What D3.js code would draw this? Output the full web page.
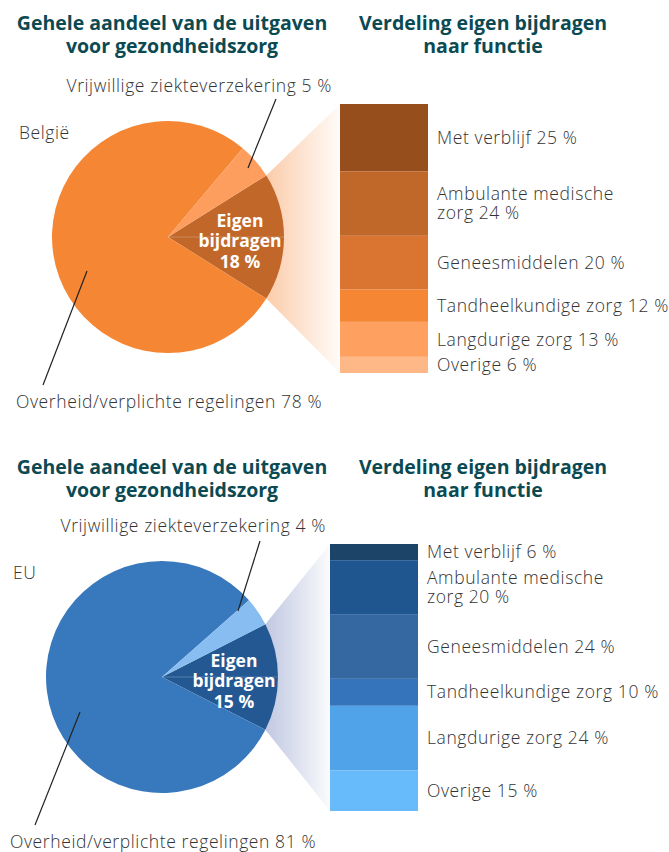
<!DOCTYPE html>
<html>
<head>
<meta charset="utf-8">
<script src="https://cdn.jsdelivr.net/npm/d3@7"></script>
<style>
  body { margin: 0; background: #fff; }
  .title { font-family: "Open Sans", sans-serif; font-weight: 700; font-size: 19.5px; fill: #0b4a52; }
  .lbl { font-family: "Open Sans", sans-serif; font-weight: 300; font-size: 17.5px; letter-spacing: 0.6px; fill: #333; }
  .inner { font-family: "Open Sans", sans-serif; font-weight: 700; font-size: 17.5px; fill: #fff; }
</style>
</head>
<body>
<svg id="chart"></svg>
<script>

/// DATA ////////////////////////////////////////////////////////////////////////////////

var TITLE_LEFT = ["Gehele aandeel van de uitgaven", "voor gezondheidszorg"];
var TITLE_RIGHT = ["Verdeling eigen bijdragen", "naar functie"];

var regions = ["België", "EU"];

// pie slices (order: eigen, overheid, vrijwillige)
var pieKeys = ["Eigen bijdragen", "Overheid/verplichte regelingen", "Vrijwillige ziekteverzekering"];
var pieBE = [18, 78, 5];
var pieEU = [15, 81, 4];

// own contribution by function
var functions = ["Met verblijf", "Ambulante medische\nzorg", "Geneesmiddelen", "Tandheelkundige zorg", "Langdurige zorg", "Overige"];
var funcBE = [25, 24, 20, 12, 13, 6];
var funcEU = [6, 20, 24, 10, 24, 15];

/// COLOURS ///////////////////////////////////////////////////////////////////////////////

var pieColBE = ["#c1672a", "#f58634", "#fd9e5e"];
var pieColEU = ["#235893", "#3878bd", "#87bdf0"];
var barColBE = ["#964e1d", "#c0672a", "#da7431", "#f58634", "#fea05f", "#feb887"];
var barColEU = ["#1c4468", "#1f5690", "#3567a1", "#3574ba", "#50a2e9", "#68bbfa"];
var fanColBE = "#f58634";
var fanColEU = "#6a7cb8";

/// SETUP ////////////////////////////////////////////////////////////////////////////////

var W = 669, H = 852;
var svg = d3.select("#chart").attr("width", W).attr("height", H);
var defs = svg.append("defs");

var panels = [
    { name: regions[0], pie: pieBE, func: funcBE, pieCol: pieColBE, barCol: barColBE, fan: fanColBE,
      titleY: 23, cx: 168, cy: 237, r: 116, barX: 340, barW: 88, barTop: 104, barBottom: 373,
      vLead: [[80, -69], [108, -138]], oLead: [[-81, 34], [-125, 148]] },
    { name: regions[1], pie: pieEU, func: funcEU, pieCol: pieColEU, barCol: barColEU, fan: fanColEU,
      titleY: 467, cx: 162, cy: 677, r: 116, barX: 330, barW: 88, barTop: 544, barBottom: 811,
      vLead: [[76, -66], [98, -136]], oLead: [[-82, 35], [-127, 148]] }
];

function drawPanel(p, idx) {
    var g = svg.append("g");

    // titles
    [[TITLE_LEFT, 172], [TITLE_RIGHT, 483]].forEach(function (t) {
        g.append("text")
            .attr("class", "title")
            .attr("text-anchor", "middle")
            .selectAll("tspan")
            .data(t[0])
            .enter()
            .append("tspan")
                .attr("x", t[1])
                .attr("y", function (d, i) { return p.titleY + i * 23.5; })
                .attr("dy", "0.35em")
                .text(function (d) { return d; });
    });

    // pie angles, eigen bijdragen centred on the right
    var total = d3.sum(p.pie);
    var half = Math.PI * p.pie[0] / total;
    var start = Math.PI / 2 - half;
    var pie = d3.pie().sort(null).startAngle(start).endAngle(start + 2 * Math.PI);
    var arcs = pie(p.pie);
    var arc = d3.arc().innerRadius(0).outerRadius(p.r);

    // bar scale
    var y = d3.scaleLinear().domain([0, d3.sum(p.func)]).range([p.barTop, p.barBottom]);
    var cum = [0];
    p.func.forEach(function (v, i) { cum.push(cum[i] + v); });

    // fan from the slice to the bar
    var e = arcs[0];
    var pTop = [p.cx + p.r * Math.sin(e.startAngle), p.cy - p.r * Math.cos(e.startAngle)];
    var pBot = [p.cx + p.r * Math.sin(e.endAngle), p.cy - p.r * Math.cos(e.endAngle)];
    var gid = "fan" + idx;
    var grad = defs.append("linearGradient")
        .attr("id", gid)
        .attr("gradientUnits", "userSpaceOnUse")
        .attr("x1", pTop[0]).attr("y1", 0)
        .attr("x2", p.barX).attr("y2", 0);
    grad.append("stop").attr("offset", 0).attr("stop-color", p.fan).attr("stop-opacity", 0.42);
    grad.append("stop").attr("offset", 1).attr("stop-color", p.fan).attr("stop-opacity", 0.03);

    g.append("path")
        .attr("d", d3.line()([pTop, [p.barX, y(0)], [p.barX, y(cum[cum.length - 1])], pBot]) + "Z")
        .attr("fill", "url(#" + gid + ")");

    // pie
    var pg = g.append("g").attr("transform", "translate(" + p.cx + "," + p.cy + ")");
    pg.selectAll("path")
        .data(arcs)
        .enter()
        .append("path")
            .attr("d", arc)
            .attr("fill", function (d, i) { return p.pieCol[i]; });

    // faint seam through the eigen slice
    pg.append("line")
        .attr("x1", 0).attr("y1", 0).attr("x2", p.r).attr("y2", 0)
        .attr("stroke", "#fff").attr("stroke-opacity", 0.22).attr("stroke-width", 1);

    // slice text
    var inner = ["Eigen", "bijdragen", p.pie[0] + " %"];
    pg.append("text")
        .attr("class", "inner")
        .attr("text-anchor", "middle")
        .selectAll("tspan")
        .data(inner)
        .enter()
        .append("tspan")
            .attr("x", 72)
            .attr("y", function (d, i) { return 4 + (i - 1) * 20.5; })
            .attr("dy", "0.35em")
            .text(function (d) { return d; });

    // leader lines
    [p.vLead, p.oLead].forEach(function (l) {
        pg.append("line")
            .attr("x1", l[0][0]).attr("y1", l[0][1])
            .attr("x2", l[1][0]).attr("y2", l[1][1])
            .attr("stroke", "#222").attr("stroke-width", 1.2);
    });

    // pie labels
    pg.append("text").attr("class", "lbl")
        .attr("x", 164).attr("y", -151).attr("dy", "0.35em")
        .attr("text-anchor", "end")
        .text(pieKeys[2] + " " + p.pie[2] + " %");
    pg.append("text").attr("class", "lbl")
        .attr("x", -152).attr("y", 165).attr("dy", "0.35em")
        .text(pieKeys[1] + " " + p.pie[1] + " %");
    pg.append("text").attr("class", "lbl")
        .attr("x", -149).attr("y", -104).attr("dy", "0.35em")
        .text(p.name);

    // stacked bar
    g.selectAll("rect.seg")
        .data(p.func)
        .enter()
        .append("rect")
            .attr("class", "seg")
            .attr("x", p.barX)
            .attr("width", p.barW)
            .attr("y", function (d, i) { return y(cum[i]); })
            .attr("height", function (d, i) { return y(cum[i + 1]) - y(cum[i]); })
            .attr("fill", function (d, i) { return p.barCol[i]; });

    // bar labels
    g.selectAll("text.seglbl")
        .data(p.func)
        .enter()
        .append("text")
            .attr("class", "lbl seglbl")
            .each(function (d, i) {
                var lines = (functions[i] + " " + d + " %").split("\n");
                var mid = (y(cum[i]) + y(cum[i + 1])) / 2;
                var t = d3.select(this);
                lines.forEach(function (s, j) {
                    t.append("tspan")
                        .attr("x", p.barX + p.barW + 9)
                        .attr("y", mid + (j - (lines.length - 1) / 2) * 19.5)
                        .attr("dy", "0.35em")
                        .text(s);
                });
            });
}

panels.forEach(drawPanel);

</script>
</body>
</html>
